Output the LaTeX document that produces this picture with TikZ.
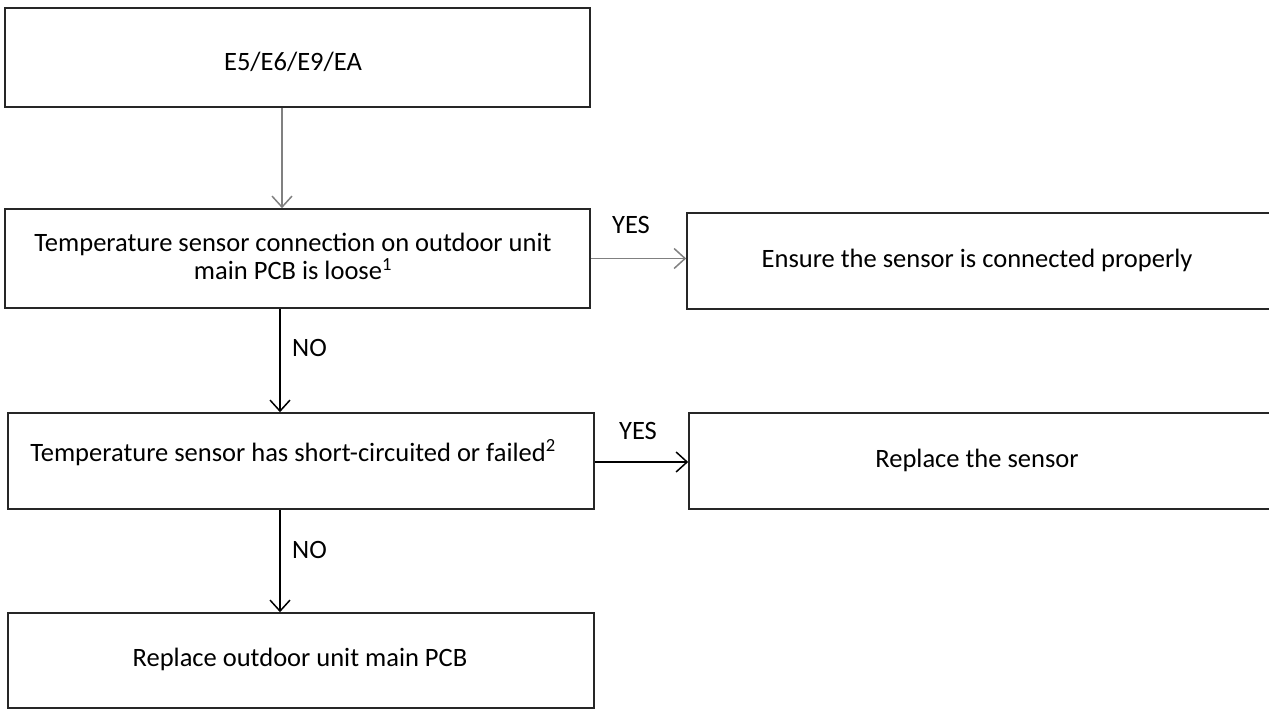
\documentclass[tikz,border=0pt]{standalone}
\usepackage{fontspec}
\setmainfont{Carlito}
\usetikzlibrary{arrows.meta}
\begin{document}
\begin{tikzpicture}[x=1pt,y=-1pt,
  box/.style={draw=black!85, line width=1.6pt, inner sep=0pt},
  txt/.style={font=\fontsize{26.5}{28}\selectfont, align=center, inner sep=0pt},
  lbl/.style={font=\fontsize{26.5}{28}\selectfont, inner sep=0pt},
  arr/.style={line width=1.5pt, -{Straight Barb[length=11pt,width=20pt,line width=1.5pt]}},
  grayarr/.style={arr, draw=black!50},
]
\useasboundingbox (0,0) rectangle (1269,711);
\node[box, minimum width=585pt, minimum height=99pt] (b1) at (297.5,57.5) {};
\node[box, minimum width=585pt, minimum height=99pt] (b2) at (297.5,258.5) {};
\node[box, minimum width=584pt, minimum height=96pt] (b3) at (979,261) {};
\node[box, minimum width=586pt, minimum height=96pt] (b4) at (301,461) {};
\node[box, minimum width=582pt, minimum height=96pt] (b5) at (980,461) {};
\node[box, minimum width=586pt, minimum height=95pt] (b6) at (301,660.5) {};

\node[txt, anchor=base] (t1) at (293,71) {E5/E6/E9/EA};
\node[txt] (t2) at (293,256) {Temperature sensor connection on outdoor unit\\main PCB is loose\textsuperscript{1}};
\node[txt, anchor=base] (t3) at (977,268) {Ensure the sensor is connected properly};
\node[txt, anchor=base] (t4) at (293,461) {Temperature sensor has short-circuited or failed\textsuperscript{2}};
\node[txt, anchor=base] (t5) at (977,467) {Replace the sensor};
\node[txt, anchor=base] (t6) at (300,666) {Replace outdoor unit main PCB};

\coordinate (ax1) at (282,0);
\coordinate (ax2) at (280,0);
\coordinate (y1) at (0,258.5);
\coordinate (y2) at (0,462);

\draw[grayarr] (b1.south -| ax1) -- (b2.north -| ax1);
\draw[arr] (b2.south -| ax2) -- (b4.north -| ax2);
\draw[arr] (b4.south -| ax2) -- (b6.north -| ax2);
\draw[grayarr] (b2.east |- y1) -- (b3.west |- y1);
\draw[arr] (b4.east |- y2) -- (b5.west |- y2);

\node[lbl, anchor=base west] (n1) at (292,356.5) {NO};
\node[lbl, anchor=base west] (n2) at (292,558.5) {NO};
\node[lbl, anchor=base] (ys1) at (631,233.5) {YES};
\node[lbl, anchor=base] (ys2) at (638,439.5) {YES};
\end{tikzpicture}
\end{document}
